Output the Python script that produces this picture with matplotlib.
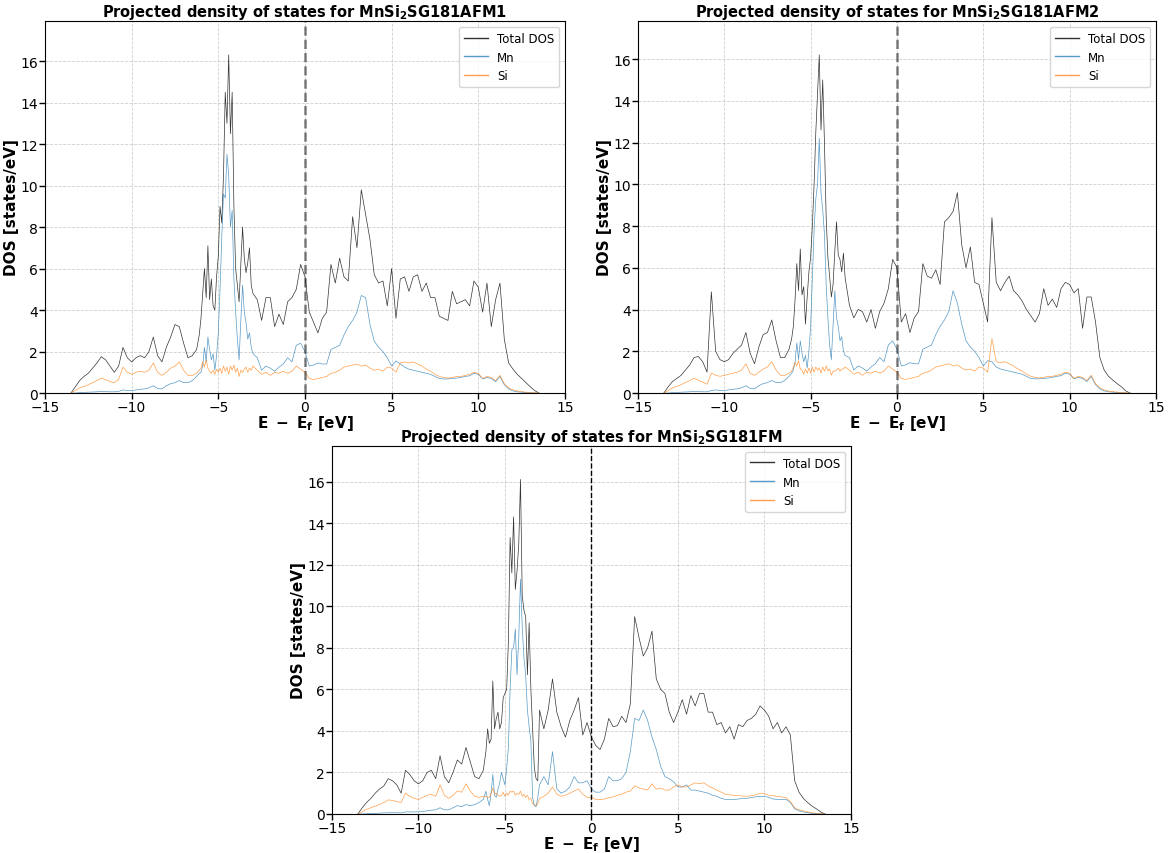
import matplotlib
matplotlib.use('Agg')
import matplotlib.pyplot as plt

# energy grid (eV, relative to Fermi level) shared by all panels
energy = [-13.5, -13.25, -13.0, -12.75, -12.5, -12.25, -12.0, -11.75, -11.5, -11.25,
          -11.0, -10.75, -10.5, -10.25, -10.0, -9.75, -9.5, -9.25, -9.0, -8.75,
          -8.5, -8.25, -8.0, -7.75, -7.5, -7.25, -7.0, -6.75, -6.5, -6.25,
          -6.1, -6.0, -5.9, -5.8, -5.7, -5.6, -5.5, -5.4, -5.3, -5.2, -5.1, -5.0,
          -4.9, -4.8, -4.7, -4.6, -4.5, -4.4, -4.3, -4.2, -4.1, -4.0,
          -3.9, -3.8, -3.7, -3.6, -3.5, -3.4, -3.3, -3.2, -3.1, -3.0,
          -2.75, -2.5, -2.25, -2.0, -1.75, -1.5, -1.25, -1.0, -0.75, -0.5, -0.25, 0.0,
          0.25, 0.5, 0.75, 1.0, 1.25, 1.5, 1.75, 2.0, 2.25, 2.5, 2.75, 3.0, 3.25, 3.5,
          3.75, 4.0, 4.25, 4.5, 4.75, 5.0, 5.25, 5.5, 5.75, 6.0, 6.25, 6.5, 6.75, 7.0,
          7.25, 7.5, 7.75, 8.0, 8.25, 8.5, 8.75, 9.0, 9.25, 9.5, 9.75, 10.0, 10.25, 10.5,
          10.75, 11.0, 11.25, 11.5, 11.75, 12.0, 12.25, 12.5, 12.75, 13.0, 13.25, 13.5]

# ---- MnSi2 SG181 AFM1 ----
afm1_total = [0.0, 0.3, 0.6, 0.8, 0.95, 1.2, 1.45, 1.75, 1.6, 1.3,
              1.0, 1.3, 2.2, 1.7, 1.5, 1.7, 1.8, 1.7, 2.0, 2.7,
              1.8, 1.5, 2.2, 2.7, 3.3, 3.2, 2.4, 1.7, 1.8, 2.1,
              2.8, 3.6, 4.8, 6.0, 4.6, 7.1, 4.5, 5.5, 4.2, 4.0, 5.6, 6.6,
              9.0, 8.2, 10.5, 14.5, 13.0, 16.3, 12.5, 14.5, 9.0, 6.0,
              5.2, 4.4, 6.2, 8.0, 6.5, 5.8, 6.3, 7.0, 5.2, 4.8,
              4.5, 3.5, 4.6, 4.6, 3.2, 3.8, 3.3, 4.4, 4.6, 5.0, 6.2, 5.6,
              3.9, 3.4, 2.9, 3.6, 3.9, 6.2, 5.3, 6.5, 5.6, 5.4, 8.5, 7.0, 9.8, 8.6,
              7.4, 5.7, 5.3, 5.4, 4.2, 6.0, 3.6, 5.5, 5.6, 4.9, 5.6, 5.7, 4.9, 5.3,
              4.6, 4.6, 3.7, 3.6, 3.5, 4.9, 4.3, 4.4, 4.5, 4.2, 5.4, 5.1, 3.9, 5.3,
              3.2, 4.5, 5.3, 2.6, 1.45, 1.15, 0.9, 0.7, 0.5, 0.3, 0.12, 0.0]
afm1_mn = [0.0, 0.0, 0.02, 0.03, 0.04, 0.05, 0.06, 0.08, 0.07, 0.06,
           0.06, 0.08, 0.15, 0.12, 0.12, 0.15, 0.18, 0.2, 0.25, 0.35,
           0.22, 0.2, 0.35, 0.45, 0.5, 0.6, 0.5, 0.5, 0.6, 0.8,
           0.95, 1.0, 1.3, 2.2, 1.5, 2.7, 2.1, 1.6, 1.9, 1.1, 1.8, 2.9,
           5.0, 7.5, 9.6, 9.4, 11.5, 10.5, 8.0, 8.8, 5.5, 3.9,
           2.6, 1.6, 3.5, 5.2, 3.9, 3.4, 2.6, 2.9, 2.2, 1.9,
           1.7, 1.1, 1.3, 1.2, 1.05, 1.25, 1.4, 1.7, 1.5, 2.3, 2.4, 2.0,
           1.3, 1.35, 1.45, 1.4, 1.4, 2.1, 2.2, 2.3, 2.8, 3.2, 3.5, 3.9, 4.7, 4.6,
           3.3, 2.5, 2.2, 2.0, 1.7, 1.3, 1.55, 1.4, 1.25, 1.15, 1.1, 1.05, 1.0, 0.95,
           0.9, 0.8, 0.7, 0.68, 0.68, 0.7, 0.72, 0.75, 0.8, 0.83, 0.95, 0.9, 0.68, 0.75,
           0.7, 0.55, 0.8, 0.4, 0.2, 0.1, 0.06, 0.04, 0.02, 0.01, 0.0, 0.0]
afm1_si = [0.0, 0.12, 0.25, 0.32, 0.4, 0.5, 0.6, 0.72, 0.65, 0.55,
           0.5, 0.65, 1.25, 1.0, 0.9, 1.0, 1.05, 1.0, 1.1, 1.45,
           1.0, 0.85, 1.0, 1.2, 1.3, 1.5, 1.1, 0.85, 0.85, 0.95,
           1.1, 1.2, 1.5, 1.25, 1.6, 1.2, 1.05, 0.95, 1.1, 0.9, 1.15, 1.0,
           1.2, 0.95, 1.3, 1.05, 1.25, 0.9, 1.3, 1.1, 1.35, 1.0,
           1.2, 0.8, 1.1, 1.0, 1.15, 1.25, 1.0, 1.2, 1.1, 1.3,
           1.1, 0.9, 1.0, 0.85, 1.0, 0.95, 1.05, 0.95, 1.05, 1.3, 1.15, 1.0,
           0.7, 0.65, 0.7, 0.75, 0.8, 0.95, 1.0, 1.1, 1.25, 1.3, 1.35, 1.4, 1.3, 1.35,
           1.2, 1.1, 1.15, 1.05, 1.25, 1.2, 1.0, 1.45, 1.5, 1.45, 1.5, 1.4, 1.3, 1.15,
           1.05, 0.9, 0.8, 0.75, 0.72, 0.75, 0.8, 0.8, 0.85, 0.9, 1.0, 0.95, 0.7, 0.8,
           0.75, 0.6, 0.85, 0.45, 0.25, 0.15, 0.1, 0.07, 0.04, 0.02, 0.01, 0.0]

# ---- MnSi2 SG181 AFM2 ----
afm2_total = [0.0, 0.3, 0.55, 0.7, 0.85, 1.1, 1.35, 1.7, 1.75, 1.5,
              1.0, 4.85, 2.0, 1.6, 1.5, 1.6, 1.9, 2.1, 2.3, 2.9,
              1.9, 1.4, 2.2, 2.8, 2.9, 3.5, 2.5, 1.7, 1.7, 2.1,
              2.6, 3.2, 4.5, 6.2, 4.9, 6.9, 4.7, 5.1, 3.3, 4.6, 5.8, 6.5,
              8.0, 10.0, 12.5, 14.4, 16.2, 12.6, 15.0, 12.0, 8.4, 6.5,
              5.6, 4.6, 5.2, 6.8, 8.2, 6.6, 6.4, 5.8, 6.7, 5.5,
              4.2, 3.6, 4.0, 3.9, 3.4, 4.0, 3.1, 3.9, 4.3, 5.0, 6.4, 6.0,
              3.4, 3.8, 2.9, 3.6, 3.9, 6.2, 5.6, 5.5, 5.9, 5.2, 8.2, 8.4, 8.7, 9.6,
              7.1, 6.0, 7.0, 5.3, 5.2, 4.3, 3.4, 8.4, 5.3, 4.9, 5.3, 5.6, 4.9, 4.7,
              4.4, 4.0, 3.7, 3.4, 3.8, 5.0, 4.2, 4.5, 4.1, 5.0, 5.3, 5.2, 4.8, 5.0,
              3.1, 4.6, 4.6, 3.4, 1.7, 1.1, 0.8, 0.62, 0.45, 0.3, 0.1, 0.0]
afm2_mn = [0.0, 0.0, 0.02, 0.03, 0.04, 0.05, 0.06, 0.08, 0.07, 0.06,
           0.06, 0.12, 0.15, 0.12, 0.12, 0.15, 0.18, 0.2, 0.25, 0.35,
           0.22, 0.2, 0.35, 0.45, 0.5, 0.6, 0.5, 0.5, 0.6, 0.8,
           0.95, 1.1, 1.5, 2.4, 1.6, 2.5, 1.9, 1.5, 1.8, 1.2, 2.0, 3.2,
           5.5, 7.8, 9.3, 10.0, 12.2, 9.6, 8.8, 7.6, 5.2, 3.6,
           2.3, 1.6, 3.2, 4.9, 3.6, 3.2, 2.5, 2.7, 2.0, 1.8,
           1.7, 1.1, 1.3, 1.2, 1.05, 1.25, 1.4, 1.7, 1.5, 2.3, 2.5, 2.1,
           1.3, 1.35, 1.45, 1.4, 1.4, 2.1, 2.2, 2.3, 2.8, 3.2, 3.5, 3.9, 4.9, 4.3,
           3.3, 2.5, 2.2, 2.0, 1.7, 1.3, 1.55, 1.5, 1.25, 1.15, 1.1, 1.05, 1.0, 0.95,
           0.9, 0.8, 0.7, 0.68, 0.68, 0.7, 0.72, 0.75, 0.8, 0.83, 0.95, 0.9, 0.68, 0.75,
           0.7, 0.55, 0.8, 0.4, 0.2, 0.1, 0.06, 0.04, 0.02, 0.01, 0.0, 0.0]
afm2_si = [0.0, 0.12, 0.25, 0.32, 0.4, 0.5, 0.6, 0.7, 0.62, 0.52,
           0.42, 0.95, 0.85, 0.8, 0.85, 0.9, 0.95, 1.0, 1.1, 1.4,
           0.95, 0.85, 1.0, 1.15, 1.25, 1.5, 1.1, 0.85, 0.85, 0.95,
           1.05, 1.25, 1.45, 1.3, 1.55, 1.15, 1.1, 0.9, 1.15, 0.95, 1.2, 0.95,
           1.25, 1.0, 1.25, 1.1, 1.2, 0.95, 1.25, 1.05, 1.3, 1.05,
           1.15, 0.85, 1.05, 1.05, 1.1, 1.2, 1.05, 1.15, 1.15, 1.25,
           1.1, 0.9, 1.0, 0.85, 1.0, 0.95, 1.05, 0.95, 1.05, 1.3, 1.15, 1.0,
           0.7, 0.65, 0.7, 0.75, 0.8, 0.95, 1.0, 1.1, 1.25, 1.3, 1.35, 1.4, 1.3, 1.35,
           1.2, 1.1, 1.15, 1.05, 1.25, 1.2, 1.0, 2.6, 1.5, 1.45, 1.5, 1.4, 1.3, 1.15,
           1.05, 0.9, 0.8, 0.75, 0.72, 0.75, 0.8, 0.8, 0.85, 0.9, 1.0, 0.95, 0.7, 0.8,
           0.75, 0.6, 0.85, 0.45, 0.25, 0.15, 0.1, 0.07, 0.04, 0.02, 0.01, 0.0]

# ---- MnSi2 SG181 FM ----
fm_total = [0.0, 0.3, 0.55, 0.75, 1.0, 1.2, 1.35, 1.7, 1.6, 1.4,
            1.0, 2.1, 1.9, 1.6, 1.45, 1.6, 2.0, 2.1, 1.7, 2.8,
            1.8, 1.5, 2.0, 2.6, 2.4, 3.2, 2.5, 1.8, 1.7, 2.1,
            3.0, 4.1, 3.4, 3.6, 6.4, 4.1, 4.6, 4.9, 4.1, 4.4, 5.6, 5.8,
            6.0, 8.3, 13.3, 11.6, 14.3, 10.8, 11.7, 13.0, 16.1, 10.5,
            9.8, 9.5, 6.7, 9.2, 6.0, 4.1, 2.2, 1.7, 1.6, 5.0,
            4.1, 5.0, 6.5, 4.9, 4.2, 3.7, 4.5, 5.0, 5.6, 3.8, 4.4, 3.7,
            3.3, 3.1, 3.6, 4.6, 4.2, 4.25, 4.7, 4.4, 5.3, 9.5, 8.5, 7.6, 8.0, 8.8,
            6.5, 6.0, 5.8, 4.9, 4.4, 4.9, 5.5, 4.8, 5.7, 5.2, 5.8, 5.8, 4.9, 4.9,
            4.3, 4.4, 3.9, 4.2, 3.6, 4.3, 4.2, 4.5, 4.6, 4.8, 5.2, 5.0, 4.7, 4.1,
            4.4, 3.9, 4.2, 3.8, 1.6, 1.05, 0.75, 0.55, 0.38, 0.25, 0.1, 0.0]
fm_mn = [0.0, 0.0, 0.01, 0.02, 0.03, 0.04, 0.05, 0.06, 0.06, 0.06,
         0.05, 0.1, 0.1, 0.1, 0.1, 0.12, 0.15, 0.18, 0.2, 0.3,
         0.2, 0.2, 0.3, 0.4, 0.35, 0.45, 0.4, 0.45, 0.55, 0.7,
         1.1, 0.7, 0.4, 1.0, 1.9, 0.9, 0.8, 1.2, 1.5, 2.0, 1.7, 1.4,
         2.2, 3.2, 6.0, 7.9, 8.0, 8.9, 6.7, 8.5, 11.3, 9.0,
         7.5, 6.7, 5.0, 4.2, 3.5, 0.8, 0.4, 0.35, 0.8, 1.4,
         1.8, 1.4, 3.0, 1.2, 1.0, 1.1, 1.3, 1.8, 1.5, 1.5, 1.6, 1.2,
         1.05, 1.05, 1.2, 1.8, 1.6, 1.6, 1.7, 2.0, 3.0, 4.6, 4.5, 5.0, 4.5, 3.7,
         3.1, 2.3, 1.8, 1.7, 1.55, 1.3, 1.3, 1.4, 1.15, 1.15, 1.1, 1.05, 1.0, 0.9,
         0.85, 0.75, 0.7, 0.7, 0.7, 0.72, 0.75, 0.75, 0.8, 0.82, 0.85, 0.85, 0.8, 0.72,
         0.7, 0.7, 0.7, 0.55, 0.25, 0.15, 0.1, 0.06, 0.03, 0.02, 0.01, 0.0]
fm_si = [0.0, 0.1, 0.22, 0.3, 0.38, 0.45, 0.55, 0.68, 0.65, 0.6,
         0.55, 1.0, 0.85, 0.75, 0.7, 0.8, 0.9, 0.95, 0.85, 1.4,
         0.9, 0.75, 0.9, 1.1, 1.05, 1.45, 1.1, 0.85, 0.8, 0.85,
         0.85, 0.8, 0.8, 1.0, 1.25, 0.95, 1.0, 0.9, 0.85, 0.9, 1.05, 0.85,
         1.0, 0.9, 1.1, 1.05, 1.1, 0.9, 1.0, 0.95, 1.1, 0.85,
         0.95, 0.8, 0.9, 0.7, 0.75, 0.5, 0.45, 0.4, 0.5, 0.75,
         0.85, 1.0, 1.3, 0.95, 0.85, 0.9, 1.0, 1.1, 1.2, 0.95, 0.8, 0.8,
         0.7, 0.7, 0.72, 0.78, 0.82, 0.9, 0.95, 1.05, 1.1, 1.35, 1.25, 1.2, 1.15, 1.45,
         1.2, 1.25, 1.15, 1.15, 1.3, 1.4, 1.3, 1.3, 1.4, 1.5, 1.45, 1.5, 1.35, 1.25,
         1.15, 1.05, 0.95, 0.92, 0.9, 0.88, 0.86, 0.85, 0.88, 0.92, 1.0, 0.98, 0.9, 0.88,
         0.85, 0.82, 0.78, 0.6, 0.3, 0.2, 0.15, 0.1, 0.06, 0.03, 0.01, 0.0]

titles = ['MnSi$_\\mathbf{2}$SG181AFM1', 'MnSi$_\\mathbf{2}$SG181AFM2', 'MnSi$_\\mathbf{2}$SG181FM']
panels = [(afm1_total, afm1_mn, afm1_si),
          (afm2_total, afm2_mn, afm2_si),
          (fm_total, fm_mn, fm_si)]

fig = plt.figure(figsize=(11.68, 8.54), dpi=100)
ax1 = fig.add_axes([0.0385, 0.5386, 0.4452, 0.4356])
ax2 = fig.add_axes([0.5462, 0.5386, 0.4435, 0.4356])
ax3 = fig.add_axes([0.2842, 0.0457, 0.4443, 0.4309])
axes = [ax1, ax2, ax3]

for i, ax in enumerate(axes):
    total, mn, si = panels[i]
    ax.plot(energy, total, color='black', lw=0.5, alpha=0.8, label='Total DOS')
    ax.plot(energy, mn, color='tab:blue', lw=0.5, alpha=0.75, label='Mn')
    ax.plot(energy, si, color='tab:orange', lw=0.5, alpha=0.75, label='Si')
    if i < 2:
        ax.axvline(0, color='black', ls='--', lw=1.8, alpha=0.5)
    else:
        ax.axvline(0, color='black', ls='--', lw=1.0)
    ax.set_xlim(-15, 15)
    ax.set_ylim(0, max(total) * 1.1)
    ax.set_xticks([-15, -10, -5, 0, 5, 10, 15])
    ax.set_yticks(range(0, 17, 2))
    ax.tick_params(direction='out', length=4, width=1, pad=1, labelsize=10)
    ax.grid(True, ls='--', lw=0.6, alpha=0.6)
    ax.set_title('Projected density of states for ' + titles[i], fontsize=10.5, fontweight='bold', pad=2)
    ax.set_xlabel(r'$\mathbf{E\ -\ E_f}$ [eV]', fontsize=11, fontweight='bold', labelpad=-1)
    ax.set_ylabel('DOS [states/eV]', fontsize=11, fontweight='bold', labelpad=1)
    leg = ax.legend(loc='upper right', fontsize=8.5)
    for h in leg.get_lines():
        h.set_linewidth(1.0)

fig.savefig('out.png', dpi=100)
